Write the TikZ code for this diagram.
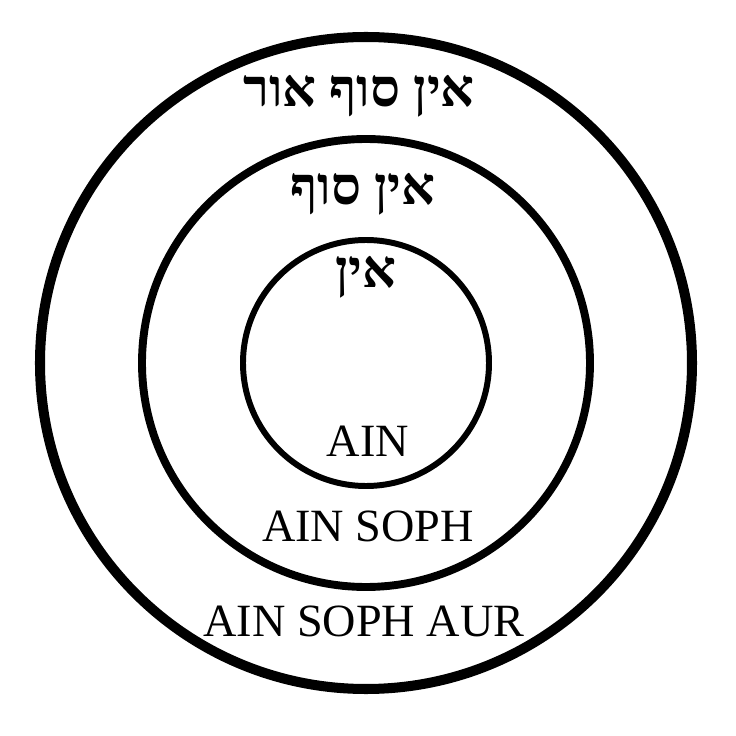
\documentclass[tikz,border=0pt]{standalone}
\usepackage{fontspec}
\setmainfont{Liberation Serif}
\newfontfamily\hebfont[Script=Hebrew]{Liberation Serif}
\TeXXeTstate=1
\usetikzlibrary{positioning}

\tikzset{
    hebrew/.style={anchor=base,inner sep=0pt,font=\hebfont\bfseries\fontsize{30}{30}\selectfont},
    latin/.style={anchor=base,inner sep=0pt,font=\fontsize{26.3}{26.3}\selectfont}
}

\begin{document}
\begin{tikzpicture}
            \useasboundingbox (-7.32,-7.46) rectangle (7.40,7.26);
            % 圆心
            \coordinate (O) at (0,0);
            % 画三个同心圆
            \foreach \r/\w in {6.52/5.7pt,4.48/4.5pt,2.46/3.4pt}
                \draw [line width=\w] (O) circle (\r);
            % 希伯来文
            \node [hebrew] (hebAur) at (-0.14,5.12) {\beginR אין סוף אור\endR};
            \node [hebrew] (hebSoph) at (-0.06,3.16) {\beginR אין סוף\endR};
            \node [hebrew] (hebAin) at (0,1.50) {\beginR אין\endR};
            % 拉丁文
            \node [latin] (ain) at (0.04,-1.86) {AIN};
            \node [latin] (ainSoph) at (0.04,-3.56) {AIN SOPH};
            \node [latin] (ainSophAur) at (-0.04,-5.46) {AIN SOPH AUR};
        \end{tikzpicture}
\end{document}
